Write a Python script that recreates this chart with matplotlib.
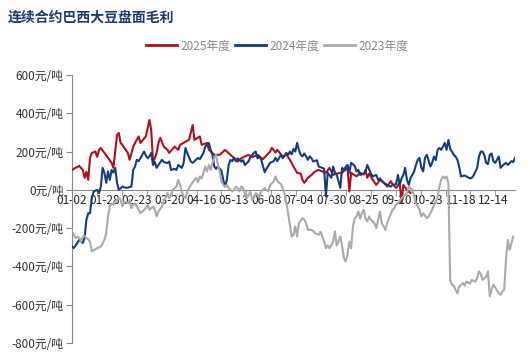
import numpy as np
import matplotlib.pyplot as plt

plt.rcParams['font.family'] = ['Noto Sans CJK SC', 'DejaVu Sans']

title = "连续合约巴西大豆盘面毛利"
date_labels = ["01-02", "01-28", "02-23", "03-20", "04-16", "05-13", "06-08",
               "07-04", "07-30", "08-25", "09-20", "10-23", "11-18", "12-14"]
n_cat = 247
label_step = 18
yticks = [600, 400, 200, 0, -200, -400, -600, -800]

# 2025年度 (category index, 元/吨)
x25 = [0, 2, 4, 6, 7, 8, 9, 10, 11, 13, 14, 15, 16, 18, 20, 22, 23, 25, 26, 27,
       28, 31, 32, 34, 35, 37, 38, 41, 43, 44, 45, 47, 48, 49, 51, 53, 54, 57, 59, 60,
       63, 65, 67, 68, 71, 72, 75, 76, 78, 79, 82, 85, 89, 90, 92, 94, 98, 100, 103, 106,
       108, 110, 111, 113, 114, 117, 119, 121, 123, 125, 127, 128, 129, 131, 133, 135, 137, 139, 141, 143,
       145, 147, 150, 153, 154, 155, 158, 160, 162, 163, 164, 165, 167, 169, 171, 173, 175, 177, 178, 180,
       182, 183, 184, 186, 188]
y25 = [104, 115, 125, 104, 63, 94, 52, 167, 193, 200, 172, 209, 219, 193, 167, 141, 115, 287, 297, 245,
       235, 193, 157, 226, 245, 279, 245, 279, 365, 313, 141, 193, 245, 271, 226, 209, 193, 226, 209, 235,
       251, 261, 339, 261, 279, 235, 245, 209, 193, 183, 183, 209, 174, 167, 148, 165, 183, 170, 183, 160,
       180, 200, 219, 195, 209, 174, 185, 157, 122, 89, 85, 52, 37, 63, 78, 96, 104, 96, 89, 115,
       78, 85, 90, 115, -9, 89, 70, 89, 80, 104, 63, 85, 52, 26, 52, 40, 17, 45, 30, 10,
       37, -68, 26, 0, -17]

# 2024年度
x24 = [0, 1, 3, 4, 6, 7, 8, 9, 10, 11, 12, 14, 15, 16, 17, 18, 19, 20, 21, 22,
       23, 24, 25, 26, 28, 30, 33, 34, 35, 36, 37, 38, 40, 41, 42, 43, 44, 45, 46, 47,
       48, 50, 51, 53, 54, 55, 57, 58, 59, 61, 62, 63, 64, 66, 67, 68, 70, 71, 73, 74,
       75, 76, 77, 78, 79, 80, 81, 83, 84, 85, 86, 87, 88, 89, 90, 91, 92, 94, 95, 96,
       98, 99, 101, 102, 103, 104, 105, 107, 108, 110, 112, 113, 114, 116, 117, 119, 120, 121, 122, 123,
       124, 125, 126, 127, 128, 129, 130, 131, 132, 133, 134, 136, 137, 139, 140, 141, 142, 144, 145, 146,
       147, 149, 150, 151, 152, 153, 154, 155, 157, 158, 159, 160, 162, 163, 164, 166, 167, 169, 170, 171,
       173, 175, 177, 178, 180, 181, 182, 183, 184, 185, 186, 187, 188, 189,
       190, 191, 192, 193, 194, 195, 196, 197, 198, 199, 200, 201, 202, 203, 204, 205, 206, 207, 208, 209,
       210, 211, 212, 213, 214, 215, 216, 218, 219, 221, 222, 223, 225, 226, 227, 228, 229, 230, 231, 232,
       233, 234, 235, 237, 238, 239, 240, 241, 242, 244, 245, 246]
y24 = [-296, -304, -277, -261, -277, -250, -157, -122, -122, -44, -9, 0, -17, 17, 115, 89, 37, 96, 52, 104,
       90, 115, 37, 0, 17, 10, 17, 104, 122, 157, 150, 165, 200, 180, 165, 175, 193, 130, 145, 115,
       130, 157, 145, 140, 148, 104, 110, 104, 130, 115, 141, 219, 193, 148, 141, 150, 167, 160, 193, 226,
       235, 245, 209, 183, 122, 110, 122, 100, 52, 17, 52, 130, 157, 150, 167, 150, 165, 148, 155, 130,
       148, 170, 193, 200, 165, 175, 160, 92, 110, 141, 150, 167, 150, 183, 165, 193, 183, 200, 185, 214,
       200, 245, 209, 183, 175, 190, 175, 157, 175, 165, 148, 155, 122, 115, 110, -35, 89, 63, 122, 90,
       78, 10, 115, 104, 120, 130, 89, 141, 125, 96, 104, 78, 85, 96, 130, 85, 70, 78, 52, 60,
       37, 26, 17, 26, 30, 78, 26, 60, 78, 115, 52, 26, 63, 78,
       96, 130, 157, 167, 115, 96, 167, 183, 155, 122, 141, 174, 155, 209, 219, 209, 226, 245, 209, 261,
       215, 200, 183, 174, 157, 122, 70, 75, 70, 60, 63, 75, 115, 174, 200, 200, 180, 141, 135, 183,
       190, 150, 141, 174, 115, 125, 135, 141, 130, 150, 145, 167]

# 2023年度
x23 = [0, 1, 2, 3, 4, 5, 6, 7, 8, 9, 10, 11, 12, 14, 16, 17, 18, 19, 20, 21,
       22, 23, 24, 25, 26, 27, 28, 29, 31, 32, 33, 34, 35, 36, 37, 38, 39, 41, 42, 43,
       45, 46, 47, 48, 50, 51, 52, 53, 54, 55, 56, 58, 59, 60, 61, 62, 63, 64, 66, 68,
       69, 70, 71, 72, 73, 74, 75, 76, 77, 78, 79, 80, 81, 82, 83, 84, 85, 86, 87, 88,
       89, 90, 91, 92, 93, 94, 95, 96, 97, 98, 99, 100, 101, 102, 104, 105, 106, 107, 109, 110,
       112, 113, 114, 116, 117, 118, 119, 120, 121, 122, 123, 124, 125, 126, 128, 129, 130, 131, 133, 134,
       135, 137, 138, 139, 140, 141, 142, 143, 144, 145, 146, 147, 148, 149, 150, 151, 152, 153, 154, 155,
       156, 157, 158, 159, 160, 161, 162, 163, 164, 165, 166, 168, 169, 170, 171, 172, 173, 174, 175, 176,
       178, 179, 180, 181, 183, 186, 187, 189, 190, 191, 193, 194, 195, 197, 198, 200, 201, 202, 203, 204,
       205, 206, 207, 208, 209, 210, 211, 212, 213, 214, 215, 217, 218, 219, 221, 222, 224, 225, 226, 227,
       228, 230, 231, 232, 233, 234, 235, 237, 238, 239, 240, 241, 242, 243, 244, 245]
y23 = [-218, -235, -252, -245, -250, -270, -245, -240, -252, -258, -270, -322, -315, -305, -296, -280, -261, -226, -139, -87,
       -70, -78, -61, -52, -45, -52, -87, -61, -70, -52, -96, -78, -70, -87, -104, -122, -113, -96, -78, -104,
       -87, -104, -139, -113, -87, -52, -44, -17, -44, -26, 0, 17, 52, 26, -9, -35, -44, -9, 26, 52,
       63, 40, 70, 60, 89, 122, 96, 130, 104, 141, 167, 183, 130, 96, 43, 26, 17, 26, 10, 0,
       -9, 0, 17, 10, -9, 17, 10, -17, -44, -26, -9, -52, -44, -17, -35, -9, 0, 9, -9, 26,
       43, 70, 45, 30, 10, -17, -70, -122, -183, -244, -235, -191, -244, -174, -148, -155, -175, -209, -209, -215,
       -226, -235, -218, -245, -270, -305, -290, -305, -290, -270, -218, -290, -270, -244, -295, -357, -374, -340, -270, -305,
       -191, -148, -139, -113, -150, -122, -104, -150, -165, -139, -157, -175, -200, -157, -113, -174, -190, -209, -174, -148,
       -104, -96, -78, -70, -44, -17, 17, 0, -35, -70, -104, -139, -122, -148, -139, -104, -78, -60, -44, 17,
       52, 70, 60, 70, 35, -470, -496, -500, -522, -540, -505, -487, -500, -479, -490, -470, -480, -460, -426, -440,
       -470, -455, -426, -557, -520, -496, -510, -540, -548, -530, -522, -365, -261, -313, -280, -244]

fig = plt.figure(figsize=(5.3, 3.59), dpi=100)
ax = fig.add_axes([72 / 530, 1 - 343 / 359, 443 / 530, 268 / 359])

ax.plot(x25, y25, color="#b0101c", lw=1.5, label="2025年度", zorder=3)
ax.plot(x24, y24, color="#123d80", lw=1.5, label="2024年度", zorder=4)
ax.plot(x23, y23, color="#aaaaaa", lw=1.5, label="2023年度", zorder=5)

ax.set_xlim(0, n_cat - 1)
ax.set_ylim(-800, 600)

for s in ["top", "right"]:
    ax.spines[s].set_visible(False)
ax.spines["bottom"].set_position(("data", 0))
ax.spines["bottom"].set_color("#888888")
ax.spines["left"].set_color("#888888")

ax.set_yticks(yticks)
ax.set_yticklabels([f"{v}元/吨" for v in yticks], fontsize=8.5, color="#333333")
ax.tick_params(axis="y", direction="out", length=4, color="#888888", pad=2)

ax.set_xticks(np.arange(len(date_labels)) * label_step)
ax.set_xticklabels(date_labels, fontsize=8.5, color="#222222")
ax.set_xticks(np.arange(0, n_cat, 13.83), minor=True)
ax.tick_params(axis="x", which="major", length=0, pad=3)
ax.tick_params(axis="x", which="minor", direction="out", length=4, color="#888888")

fig.text(8 / 530, 1 - 18 / 359, title, fontsize=10, fontweight="bold",
         color="#1f3a6e", va="center", ha="left")

leg = fig.legend(loc="center", bbox_to_anchor=(277 / 530, 1 - 46 / 359), ncol=3,
                 frameon=False, fontsize=8.5, handlelength=2.6, handletextpad=0.3,
                 columnspacing=0.4)
for t in leg.get_texts():
    t.set_color("#888888")
for h in leg.get_lines():
    h.set_linewidth(2)

fig.savefig("out.png", dpi=100)
